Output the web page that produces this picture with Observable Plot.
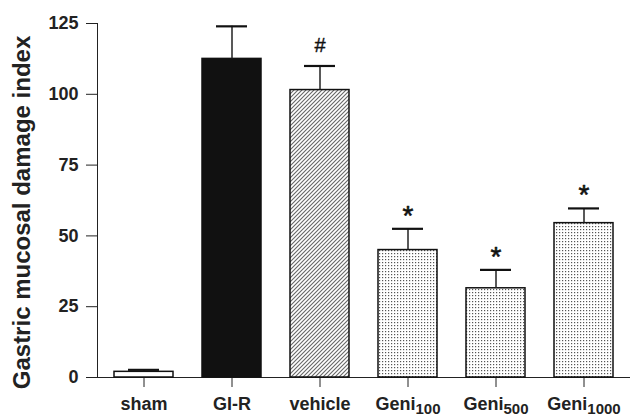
<!DOCTYPE html>
<html>
<head>
<meta charset="utf-8">
<script src="https://cdn.jsdelivr.net/npm/d3@7"></script>
<script src="https://cdn.jsdelivr.net/npm/@observablehq/plot@0.6"></script>
<style>
  html, body { margin: 0; padding: 0; background: white; }
</style>
</head>
<body>
<div id="chart"></div>
<script>
// ---- data ----
const categories = ["sham", "GI-R", "vehicle", "Geni100", "Geni500", "Geni1000"];
const means = [2, 112.5, 101.5, 45, 31.5, 54.5];
const sems = [0.7, 11.5, 8.5, 7.5, 6.5, 5.2];
const sigMarks = ["", "", "#", "*", "*", "*"];
const yTicks = [0, 25, 50, 75, 100, 125];
const yLabel = "Gastric mucosal damage index";

// ---- styles ----
const fills = {
  "sham": "white",
  "GI-R": "#111",
  "vehicle": "url(#hatch)",
  "Geni100": "url(#dots)",
  "Geni500": "url(#dots)",
  "Geni1000": "url(#dots)"
};

const data = categories.map((c, i) => ({cat: c, mean: means[i], top: means[i] + sems[i], mark: sigMarks[i]}));

const chart = Plot.plot({
  width: 632,
  height: 417,
  marginLeft: 97,
  marginRight: 3,
  marginTop: 23,
  marginBottom: 40,
  style: {fontFamily: "'Liberation Sans', Arial, sans-serif", fontSize: "18px", fontWeight: "bold", background: "white", color: "#222"},
  x: {domain: categories, paddingInner: 0.335, paddingOuter: 0.1675, label: null, tickSize: 10, tickPadding: 10, line: true},
  y: {domain: [0, 125], ticks: yTicks, label: null, tickSize: 11, tickPadding: 8, line: true},
  color: {type: "identity"},
  marks: [
    Plot.barY(data, {x: "cat", y: "mean", fill: d => fills[d.cat], stroke: "#111", strokeWidth: 1.5}),
    Plot.ruleX(data, {x: "cat", y1: "mean", y2: "top", stroke: "#222", strokeWidth: 1.5}),
    Plot.tickY(data, {x: "cat", y: "top", stroke: "#111", strokeWidth: 2.2, insetLeft: 14, insetRight: 14}),
    Plot.text(data.filter(d => d.mark === "#"), {x: "cat", y: "top", text: "mark", fontSize: 20, fontWeight: "normal", dy: -20, fill: "#111", stroke: "#111", strokeWidth: 0.4}),
    Plot.text(data.filter(d => d.mark === "*"), {x: "cat", y: "top", text: "mark", fontSize: 28, fontWeight: "normal", dy: -13, fill: "#111", stroke: "#111", strokeWidth: 0.6}),
    Plot.text([yLabel], {frameAnchor: "left", textAnchor: "middle", rotate: -90, dx: -75, dy: 12, fontSize: 24, fontWeight: "bold", fill: "#222"})
  ]
});

// pattern definitions
const svg = d3.select(chart.tagName.toLowerCase() === "svg" ? chart : chart.querySelector("svg"));
const defs = svg.insert("defs", ":first-child");
const hatch = defs.append("pattern").attr("id", "hatch").attr("patternUnits", "userSpaceOnUse").attr("width", 4).attr("height", 4);
hatch.append("rect").attr("width", 4).attr("height", 4).attr("fill", "white");
hatch.append("path").attr("d", "M-1,1 L1,-1 M0,4 L4,0 M3,5 L5,3").attr("stroke", "#666").attr("stroke-width", 1.1);
const dots = defs.append("pattern").attr("id", "dots").attr("patternUnits", "userSpaceOnUse").attr("width", 3).attr("height", 3);
dots.append("rect").attr("width", 3).attr("height", 3).attr("fill", "white");
dots.append("rect").attr("x", 1).attr("y", 1).attr("width", 1.2).attr("height", 1.2).attr("fill", "#555");

// subscript tick labels
svg.selectAll("text").each(function() {
  const t = this.textContent;
  const m = /^(Geni)(\d+)$/.exec(t);
  if (m && this.children.length === 0) {
    const el = d3.select(this);
    el.text(null);
    el.append("tspan").text(m[1]);
    el.append("tspan").attr("font-size", 15).attr("dy", 4).text(m[2]);
  }
});

document.getElementById("chart").appendChild(chart);
</script>
</body>
</html>
